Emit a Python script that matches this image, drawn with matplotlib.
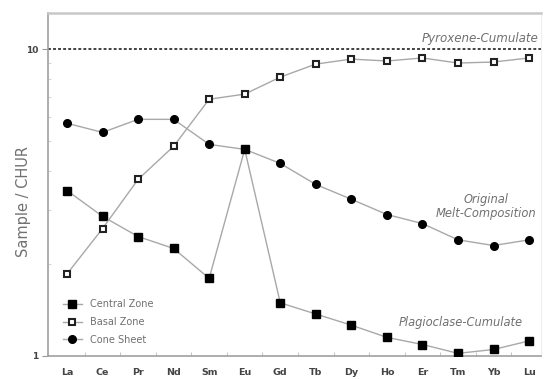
import matplotlib
matplotlib.use("Agg")
import matplotlib.pyplot as plt
from matplotlib.ticker import FixedLocator, NullFormatter, LogLocator

plt.rcParams['font.family'] = ['DejaVu Sans']

elements = ["La", "Ce", "Pr", "Nd", "Sm", "Eu", "Gd", "Tb", "Dy", "Ho", "Er", "Tm", "Yb", "Lu"]

central_zone = [3.46, 2.85, 2.45, 2.24, 1.79, 4.71, 1.49, 1.37, 1.26, 1.15, 1.09, 1.02, 1.05, 1.12]
basal_zone = [1.85, 2.60, 3.76, 4.82, 6.86, 7.13, 8.10, 8.93, 9.27, 9.14, 9.35, 9.00, 9.07, 9.35]
cone_sheet = [5.73, 5.35, 5.90, 5.90, 4.89, 4.71, 4.24, 3.62, 3.24, 2.89, 2.70, 2.39, 2.29, 2.39]

pyroxene_level = 10

fig = plt.figure(figsize=(5.45, 3.79), dpi=100)
ax = fig.add_axes([0.088, 0.0607, 0.905, 0.905])

x = list(range(len(elements)))
line_c = "#a8a8a8"
text_c = "#707070"

ax.plot(x, central_zone, color=line_c, lw=1.0, marker="s", ms=5.2,
        mfc="black", mec="black", label="Central Zone", zorder=3)
ax.plot(x, basal_zone, color=line_c, lw=1.0, marker="s", ms=5.0,
        mfc="white", mec="#222222", mew=1.5, label="Basal Zone", zorder=3)
ax.plot(x, cone_sheet, color=line_c, lw=1.0, marker="o", ms=5.5,
        mfc="black", mec="black", label="Cone Sheet", zorder=2)

ax.axhline(pyroxene_level, color="#333333", lw=1.3, ls=(0, (1.6, 1.2)), zorder=1)

ax.set_yscale("log")
ax.set_ylim(1, 13.1)
ax.set_xlim(-0.535, 13.34)

ax.set_yticks([1, 10])
ax.set_yticklabels(["1", "10"], fontsize=6.5, color="#444444", fontweight="bold")
ax.yaxis.set_minor_locator(LogLocator(base=10, subs=range(2, 10)))
ax.yaxis.set_minor_formatter(NullFormatter())

ax.set_xticks(x)
ax.set_xticklabels(elements, fontsize=6.8, color="#444444", fontweight="bold")
ax.xaxis.set_minor_locator(FixedLocator([i + 0.5 for i in range(len(elements) - 1)]))

ax.tick_params(axis="x", which="major", length=0, pad=9)
ax.tick_params(axis="x", which="minor", direction="in", length=3, color="#bbbbbb")
ax.tick_params(axis="y", which="major", direction="out", length=4, color="#999999", pad=3)
ax.tick_params(axis="y", which="minor", direction="in", length=2.5, color="#cccccc")

for side in ["left", "bottom"]:
    ax.spines[side].set_color("#a0a0a0")
    ax.spines[side].set_linewidth(1.2)
ax.spines["top"].set_color("#c8c8c8")
ax.spines["top"].set_linewidth(1.8)
ax.spines["right"].set_color("#eeeeee")
ax.spines["right"].set_linewidth(0.8)

ax.set_ylabel("Sample / CHUR", fontsize=10.5, color=text_c)
ax.yaxis.set_label_coords(-0.035, 0.45)

ax.text(13.25, 10.86, "Pyroxene-Cumulate", style="italic", fontsize=8.6,
        color=text_c, ha="right", va="center")
ax.text(11.78, 3.07, "Original\nMelt-Composition", style="italic", fontsize=8.3,
        color=text_c, ha="center", va="center", linespacing=1.15)
ax.text(11.07, 1.29, "Plagioclase-Cumulate", style="italic", fontsize=8.3,
        color=text_c, ha="center", va="center")

leg = ax.legend(loc="lower left", bbox_to_anchor=(0.012, 0.008), frameon=False,
                fontsize=7, labelcolor=text_c, handlelength=2.0,
                handletextpad=0.8, labelspacing=0.78, borderaxespad=0.5)

fig.savefig("out.png", dpi=100)
